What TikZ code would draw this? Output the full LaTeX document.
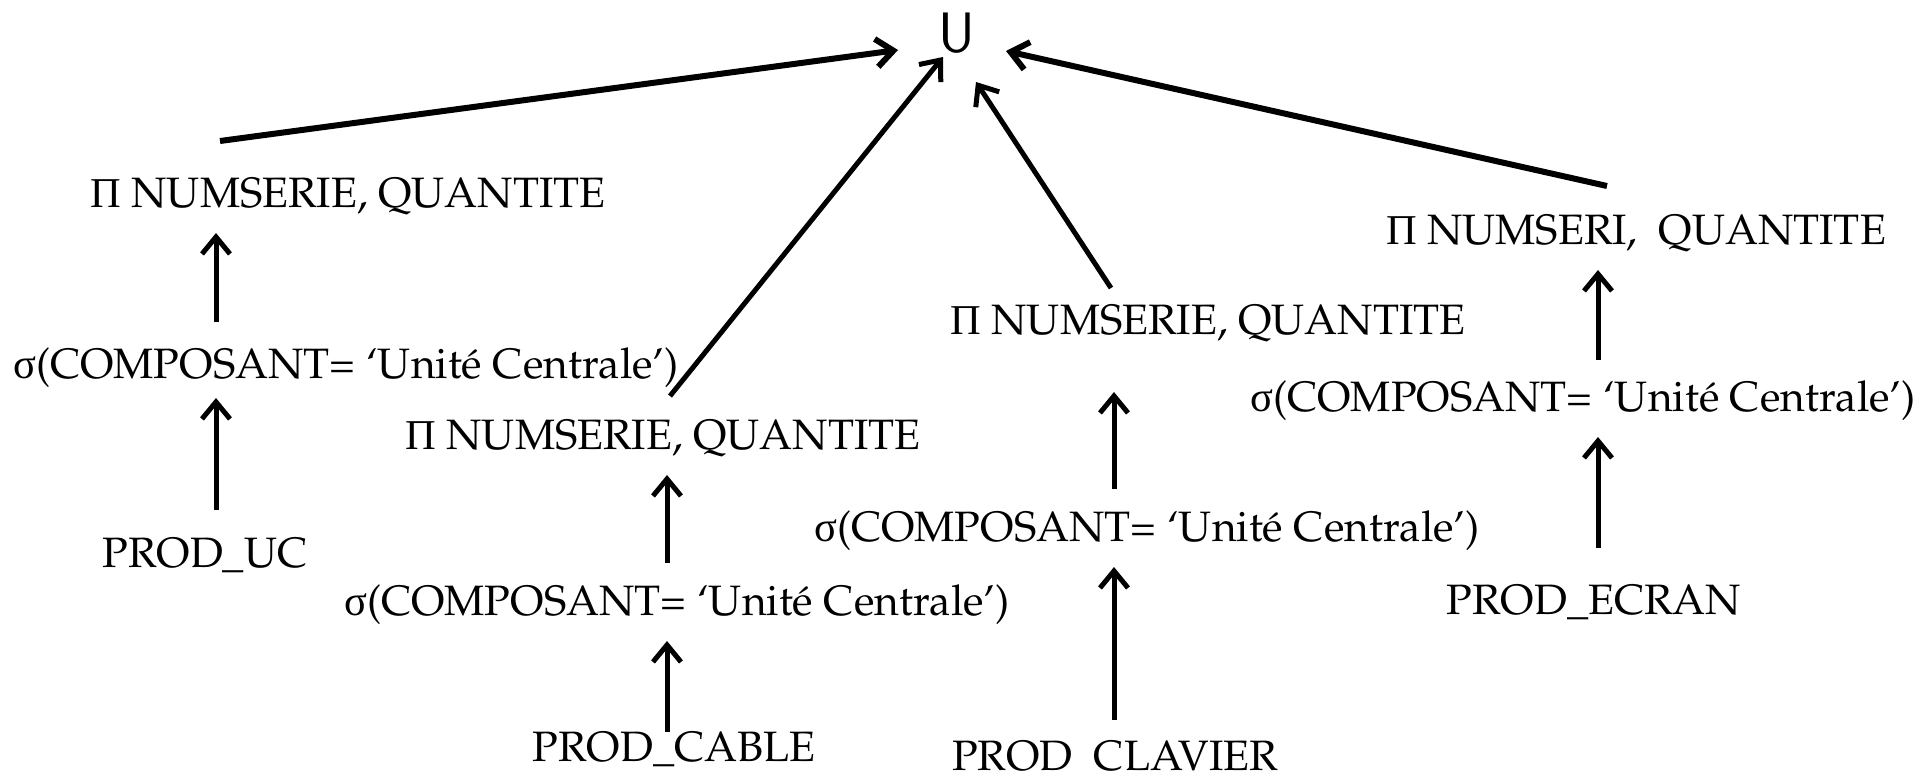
\documentclass[tikz,border=0pt]{standalone}
\usepackage[T1,TU]{fontenc}
\usepackage{fontspec}
\newfontfamily\grk{Liberation Serif}
\usetikzlibrary{arrows.meta}
\newcommand\palfont{\fontencoding{T1}\fontfamily{ppl}\selectfont}
\begin{document}
\begin{tikzpicture}[x=1pt,y=1pt,
  lbl/.style={anchor=base, inner sep=0pt, font=\palfont\fontsize{42.5}{50}\selectfont},
  unode/.style={anchor=center, inner sep=0pt, font=\sffamily\fontsize{57}{60}\selectfont},
  arr/.style={-{Straight Barb[length=17pt,width=28pt]}, line width=5pt},
  thickarr/.style={arr, line width=6pt}]
\useasboundingbox (0,0) rectangle (1920,-779);
\clip (0,0) rectangle (1920,-779);
% union
\node[unode] (U) at (957,-33) {U};
% branch 1
\node[lbl] (p1) at (348,-207) {{\grk Π} NUMSERIE, QUANTITE};
\node[lbl] (s1) at (346,-378) {{\grk σ}(COMPOSANT= `Unit\'e Centrale')};
\node[lbl] (r1) at (205,-567) {PROD\_UC};
% branch 2
\node[lbl] (p2) at (663,-449) {{\grk Π} NUMSERIE, QUANTITE};
\node[lbl] (s2) at (677,-615) {{\grk σ}(COMPOSANT= `Unit\'e Centrale')};
\node[lbl] (r2) at (674,-761) {PROD\_CABLE};
% branch 3
\node[lbl] (p3) at (1208,-334) {{\grk Π} NUMSERIE, QUANTITE};
\node[lbl] (s3) at (1147,-541) {{\grk σ}(COMPOSANT= `Unit\'e Centrale')};
\node[lbl] (r3) at (1115,-770) {PROD\ \ CLAVIER};
% branch 4
\node[lbl] (p4) at (1636,-244) {{\grk Π} NUMSERI,\ \ QUANTITE};
\node[lbl] (s4) at (1583,-411) {{\grk σ}(COMPOSANT= `Unit\'e Centrale')};
\node[lbl] (r4) at (1594,-614) {PROD\_ECRAN};
% connector end points
\coordinate (a1s) at (220,-141); \coordinate (a1e) at (898,-50);
\coordinate (a2s) at (670,-396); \coordinate (a2e) at (943,-57);
\coordinate (a3s) at (1111,-288); \coordinate (a3e) at (976,-82);
\coordinate (a4s) at (1607,-186); \coordinate (a4e) at (1006,-51);
\coordinate (v1a) at (216,-510); \coordinate (v1b) at (216,-398);
\coordinate (v1c) at (216,-322); \coordinate (v1d) at (216,-233);
\coordinate (v2a) at (667,-732); \coordinate (v2b) at (667,-641);
\coordinate (v2c) at (667,-563); \coordinate (v2d) at (667,-475);
\coordinate (v3a) at (1114,-720); \coordinate (v3b) at (1114,-567);
\coordinate (v3c) at (1114,-489); \coordinate (v3d) at (1114,-392);
\coordinate (v4a) at (1598,-548); \coordinate (v4b) at (1598,-437);
\coordinate (v4c) at (1598,-360); \coordinate (v4d) at (1598,-270);
% connectors
\draw[thickarr] (a1s) -- (a1e);
\draw[arr] (a2s) -- (a2e);
\draw[arr] (a3s) -- (a3e);
\draw[thickarr] (a4s) -- (a4e);
\draw[arr] (v1a) -- (v1b);
\draw[arr] (v1c) -- (v1d);
\draw[arr] (v2a) -- (v2b);
\draw[arr] (v2c) -- (v2d);
\draw[arr] (v3a) -- (v3b);
\draw[arr] (v3c) -- (v3d);
\draw[arr] (v4a) -- (v4b);
\draw[arr] (v4c) -- (v4d);
\end{tikzpicture}
\end{document}
